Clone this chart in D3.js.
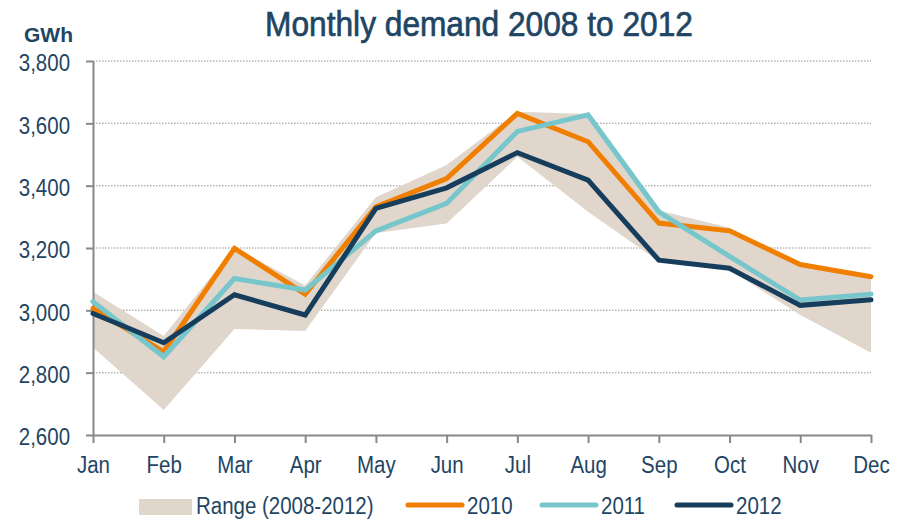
<!DOCTYPE html>
<meta charset="utf-8">
<style>
body { margin: 0; background: #fff; }
text { font-family: 'Liberation Sans', Arial, sans-serif; fill: #1e4564; }
.title { font-size: 36px; stroke: #1e4564; stroke-width: 0.7px; }
.unit { font-size: 21px; font-weight: bold; }
.tick text, .legendLabel { font-size: 23px; }
.grid line { stroke: #b4b4b4; stroke-width: 1.5px; stroke-dasharray: 1.5,1.5; }
.axis line, .axis path { stroke: #888; stroke-width: 2px; fill: none; }
</style>
<body>
<script src="https://d3js.org/d3.v7.min.js"></script>
<script>

const months = ["Jan", "Feb", "Mar", "Apr", "May", "Jun", "Jul", "Aug", "Sep", "Oct", "Nov", "Dec"];
const yTicks = [2600, 2800, 3000, 3200, 3400, 3600, 3800];

// GWh
const d2010 = [3006, 2867, 3199, 3052, 3332, 3423, 3632, 3541, 3280, 3255, 3147, 3108];
const d2011 = [3028, 2851, 3102, 3065, 3255, 3343, 3574, 3627, 3316, 3173, 3033, 3052];
const d2012 = [2990, 2896, 3050, 2985, 3327, 3393, 3506, 3418, 3161, 3135, 3016, 3034];
const rangeMax = [3060, 2918, 3202, 3080, 3363, 3466, 3637, 3630, 3320, 3265, 3150, 3110];
const rangeMin = [2881, 2680, 2940, 2934, 3248, 3279, 3493, 3316, 3157, 3130, 2985, 2864];

const series = [
  {name: "2010", values: d2010, color: "#f07f00"},
  {name: "2011", values: d2011, color: "#76c6cb"},
  {name: "2012", values: d2012, color: "#173d5d"}
];
const rangeColor = "#e0d6cc";

const width = 902, height = 520,
      plotLeft = 93, plotRight = 871, plotTop = 61, plotBottom = 435,
      sx = 0.89; // fake a condensed face

let svg = d3.select("body").append("svg")
            .attr("width", width)
            .attr("height", height);

let x = d3.scalePoint().domain(months).range([plotLeft, plotRight]),
    y = d3.scaleLinear().domain([2600, 3800]).range([plotBottom, plotTop]);

// squeeze a text horizontally, keeping its anchor at px
function squeeze(sel, px, k = sx) {
  sel.attr("x", px / k).attr("transform", `scale(${k},1)`);
}

// title + unit
svg.append("text")
    .attr("class", "title")
    .attr("y", 36)
    .attr("text-anchor", "middle")
    .text("Monthly demand 2008 to 2012")
    .call(squeeze, 479, 0.88);

svg.append("text")
    .attr("class", "unit")
    .attr("x", 24)
    .attr("y", 42)
    .text("GWh");

// dotted gridlines
svg.append("g")
    .attr("class", "grid")
  .selectAll("line")
  .data(yTicks.slice(1))
  .join("line")
    .attr("x1", plotLeft)
    .attr("x2", plotRight)
    .attr("y1", d => y(d))
    .attr("y2", d => y(d));

// range band
const area = d3.area()
    .x((d, i) => x(months[i]))
    .y0((d, i) => y(rangeMin[i]))
    .y1(d => y(d));

svg.append("path")
    .datum(rangeMax)
    .attr("fill", rangeColor)
    .attr("d", area);

// axes
const yAxis = svg.append("g")
    .attr("class", "axis")
    .attr("transform", `translate(${plotLeft},0)`)
    .call(d3.axisLeft(y).tickValues(yTicks).tickSize(7).tickSizeOuter(0).tickFormat(d3.format(",")));
yAxis.selectAll(".tick text").attr("dy", "0.42em").call(squeeze, -23);

const xAxis = svg.append("g")
    .attr("class", "axis")
    .attr("transform", `translate(0,${plotBottom})`)
    .call(d3.axisBottom(x).tickSize(8).tickSizeOuter(0).tickPadding(14));
xAxis.selectAll(".tick text").attr("dy", "0.71em").call(squeeze, 0);
svg.selectAll(".axis text").attr("fill", "#1e4564");
svg.selectAll(".axis").attr("font-family", null).attr("font-size", null);

// lines
const line = d3.line()
    .x((d, i) => x(months[i]))
    .y(d => y(d));

svg.append("g")
  .selectAll("path")
  .data(series)
  .join("path")
    .attr("fill", "none")
    .attr("stroke", d => d.color)
    .attr("stroke-width", 5)
    .attr("stroke-linecap", "round")
    .attr("stroke-linejoin", "miter")
    .attr("d", d => line(d.values));

// legend
const legend = svg.append("g");

legend.append("rect")
    .attr("x", 139)
    .attr("y", 499)
    .attr("width", 53)
    .attr("height", 16)
    .attr("fill", rangeColor);

legend.append("text")
    .attr("class", "legendLabel")
    .attr("y", 514)
    .text("Range (2008-2012)")
    .call(squeeze, 196);

const legendX = [408, 542, 677];

const item = legend.selectAll("g")
  .data(series)
  .join("g")
    .attr("transform", (d, i) => `translate(${legendX[i]},0)`);

item.append("line")
    .attr("x1", 0)
    .attr("x2", 54)
    .attr("y1", 505)
    .attr("y2", 505)
    .attr("stroke", d => d.color)
    .attr("stroke-width", 5)
    .attr("stroke-linecap", "round");

item.append("text")
    .attr("class", "legendLabel")
    .attr("y", 514)
    .text(d => d.name)
    .call(squeeze, 59);

</script>
